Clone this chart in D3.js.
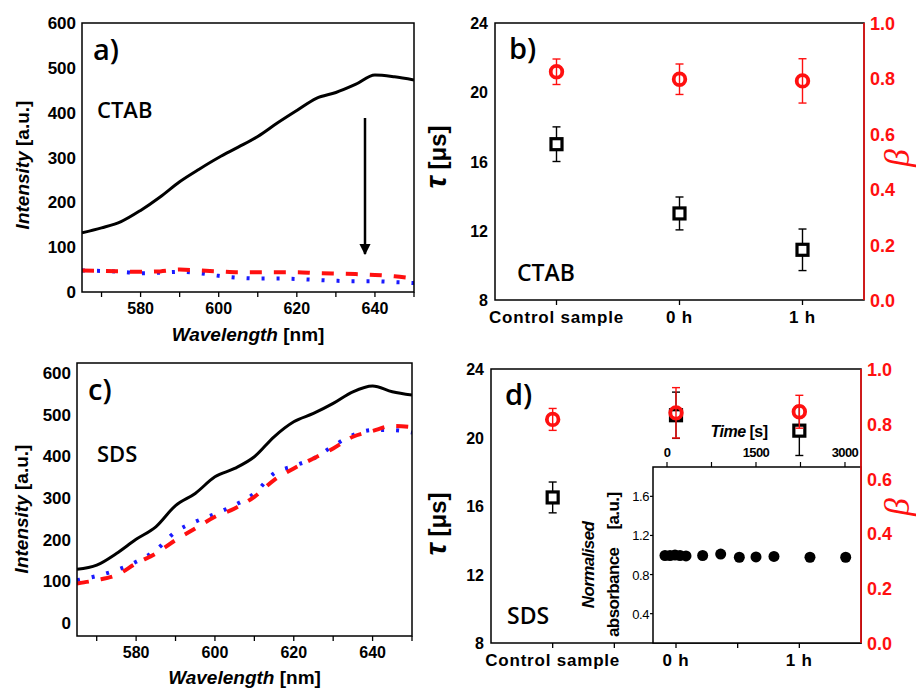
<!DOCTYPE html>
<html>
<head>
<meta charset="utf-8">
<script src="https://cdn.jsdelivr.net/npm/d3@7"></script>
<style>
  body { margin: 0; background: #fff; }
</style>
</head>
<body>
<div id="root"></div>
<script>
// ---- data ----
const wavelength = [565, 570, 575, 580, 585, 590, 595, 600, 605, 610, 615, 620, 625, 630, 635, 640, 645, 650]
// a) CTAB spectra
const ctabControl = [132, 143, 157, 182, 212, 246, 274, 300, 323, 347, 377, 405, 432, 445, 463, 484, 480, 473]
const ctabRed = [48, 47, 46, 45, 46, 50, 48, 46, 44, 44, 44, 44, 42, 41, 40, 38, 35, 30]
const ctabBlue = [48, 47, 45, 42, 43, 45, 42, 36, 32, 30, 30, 29, 27, 25, 24, 24, 22, 20]
// c) SDS spectra
const sdsControl = [129, 139, 167, 201, 231, 282, 311, 351, 371, 399, 447, 483, 503, 527, 555, 569, 555, 547]
const sdsRed = [95, 103, 115, 143, 167, 199, 227, 255, 275, 303, 343, 371, 395, 419, 447, 461, 473, 470]
const sdsBlue = [103, 113, 127, 147, 175, 219, 243, 262, 283, 311, 359, 377, 395, 425, 451, 463, 463, 457]

// b), d) lifetimes and stretching exponents
const samples = ["Control sample", "0 h", "1 h"]
const ctabTau = [17.0, 13.0, 10.9]
const ctabTauErr = [1.0, 0.95, 1.2]
const ctabBeta = [0.824, 0.797, 0.791]
const ctabBetaErr = [0.046, 0.055, 0.08]
const sdsTau = [16.5, 21.3, 20.4]
const sdsTauErr = [0.9, 1.35, 1.45]
const sdsBeta = [0.816, 0.84, 0.844]
const sdsBetaErr = [0.04, 0.092, 0.06]

// d) inset
const insetTime = [-34, 51, 135, 219, 320, 601, 905, 1219, 1500, 1803, 2410, 3012]
const insetAbs = [0.995, 0.995, 1.0, 0.995, 0.99, 0.995, 1.01, 0.977, 0.98, 0.985, 0.977, 0.977]

// ticks
const wavelengthTicks = [580, 600, 620, 640]
const wavelengthMinor = [570, 590, 610, 630, 650]
const intensityTicks = [0, 100, 200, 300, 400, 500, 600]
const tauTicks = [8, 12, 16, 20, 24]
const betaTicks = [0, 0.2, 0.4, 0.6, 0.8, 1.0]
const insetYTicks = [0.4, 0.8, 1.2, 1.6]
const insetTimeTicks = [0, 1500, 3000]
const insetTimeMinor = [750, 2250]

const RED = "#ff1010", BLUE = "#1a1aff"
const W = 916, H = 689
const svg = d3.select("#root").append("svg")
    .attr("width", W).attr("height", H)
    .style("font-family", "'Liberation Sans', Arial, sans-serif")

function spectrum(p) {
    const g = svg.append("g")
    const x = d3.scaleLinear().domain([565, 650]).range([p.left, p.right])
    const y = d3.scaleLinear().domain(p.yDomain).range([p.bottom, p.top])

    // ticks below the frame
    g.selectAll("line.minor").data(wavelengthMinor.concat(wavelengthTicks)).enter().append("line")
        .attr("x1", d => x(d)).attr("x2", d => x(d))
        .attr("y1", p.bottom).attr("y2", p.bottom + 5)
        .attr("stroke", "#000").attr("stroke-width", 1.3)
    g.selectAll("text.xt").data(wavelengthTicks).enter().append("text")
        .attr("x", d => x(d)).attr("y", p.bottom + 22)
        .attr("text-anchor", "middle").attr("font-size", 16).attr("font-weight", "bold")
        .text(d => d)
    g.selectAll("text.yt").data(intensityTicks).enter().append("text")
        .attr("x", p.left - 6).attr("y", d => y(d) + 6)
        .attr("text-anchor", "end").attr("font-size", 17).attr("font-weight", "bold")
        .text(d => d)

    const clipId = "clip" + p.name
    g.append("clipPath").attr("id", clipId).append("rect")
        .attr("x", p.left).attr("y", p.top).attr("width", p.right - p.left).attr("height", p.bottom - p.top)

    const line = d3.line().x((d, i) => x(wavelength[i])).y(d => y(d)).curve(d3.curveMonotoneX)
    const lines = g.append("g").attr("clip-path", `url(#${clipId})`)
    lines.append("path").attr("d", line(p.blue)).attr("fill", "none")
        .attr("stroke", BLUE).attr("stroke-width", 4).attr("stroke-dasharray", "3,12")
    lines.append("path").attr("d", line(p.red)).attr("fill", "none")
        .attr("stroke", RED).attr("stroke-width", 4).attr("stroke-dasharray", "12,12")
    lines.append("path").attr("d", line(p.control)).attr("fill", "none")
        .attr("stroke", "#000").attr("stroke-width", 3)

    g.append("rect").attr("x", p.left).attr("y", p.top)
        .attr("width", p.right - p.left).attr("height", p.bottom - p.top)
        .attr("fill", "none").attr("stroke", "#000").attr("stroke-width", 1.5)

    // axis titles
    const xt = g.append("text").attr("x", (p.left + p.right) / 2).attr("y", p.xTitleY)
        .attr("text-anchor", "middle").attr("font-size", 19).attr("font-weight", "bold")
    xt.append("tspan").attr("font-style", "italic").text("Wavelength")
    xt.append("tspan").text(" [nm]")
    const yt = g.append("text").attr("transform", `translate(${p.yTitleX},${p.yTitleY}) rotate(-90)`)
        .attr("text-anchor", "middle").attr("font-size", 19).attr("font-weight", "bold")
    yt.append("tspan").attr("font-style", "italic").text("Intensity")
    yt.append("tspan").text(" [a.u.]")

    g.append("text").attr("x", p.left + 11).attr("y", p.top + 37)
        .attr("font-family", "'Open Sans', sans-serif").attr("font-weight", 600).attr("font-size", 29)
        .text(p.label)
    g.append("text").attr("x", p.nameX).attr("y", p.nameY)
        .attr("font-family", "'Open Sans', sans-serif").attr("font-weight", 600).attr("font-size", 22)
        .text(p.name)
    return {x, y, g}
}

function lifetime(p) {
    const g = svg.append("g")
    const x = d3.scalePoint().domain(samples).range([p.left, p.right]).padding(0.5)
    const yT = d3.scaleLinear().domain([8, 24]).range([p.bottom, p.top])
    const yB = d3.scaleLinear().domain([0, 1]).range([p.bottom, p.top])

    const tickPos = samples.map(s => x(s))
    if (p.midTicks) tickPos.push(x(samples[0]) + x.step() / 2, x(samples[1]) + x.step() / 2)
    g.selectAll("line.xtick").data(tickPos).enter().append("line")
        .attr("x1", d => d).attr("x2", d => d).attr("y1", p.bottom).attr("y2", p.bottom + 5)
        .attr("stroke", "#000").attr("stroke-width", 1.3)
    g.selectAll("text.xt").data(samples).enter().append("text")
        .attr("x", d => x(d)).attr("y", p.bottom + 23)
        .attr("text-anchor", "middle").attr("font-size", 17).attr("font-weight", "bold")
        .attr("letter-spacing", 0.8)
        .text(d => d)
    g.selectAll("text.yt").data(tauTicks).enter().append("text")
        .attr("x", p.left - 7).attr("y", d => yT(d) + 6)
        .attr("text-anchor", "end").attr("font-size", 16).attr("font-weight", "bold")
        .text(d => d)
    g.selectAll("text.bt").data(betaTicks).enter().append("text")
        .attr("x", p.right + 6).attr("y", d => yB(d) + 7)
        .attr("font-size", 18).attr("font-weight", "bold").attr("fill", RED)
        .text(d => d.toFixed(1))

    g.append("rect").attr("x", p.left).attr("y", p.top)
        .attr("width", p.right - p.left).attr("height", p.bottom - p.top)
        .attr("fill", "#fff").attr("stroke", "#000").attr("stroke-width", 1.5)

    g.append("text").attr("x", p.left + 14).attr("y", p.top + 36)
        .attr("font-family", "'Open Sans', sans-serif").attr("font-weight", 600).attr("font-size", 29)
        .text(p.label)
    g.append("text").attr("x", p.nameX).attr("y", p.nameY)
        .attr("font-family", "'Open Sans', sans-serif").attr("font-weight", 600).attr("font-size", 23)
        .text(p.name)

    if (p.inset) p.inset(g)

    function errorBars(vals, errs, scale, color) {
        const eb = g.append("g").attr("stroke", color).attr("stroke-width", 1.4)
        vals.forEach((v, i) => {
            const cx = x(samples[i])
            eb.append("line").attr("x1", cx).attr("x2", cx).attr("y1", scale(v - errs[i])).attr("y2", scale(v + errs[i]))
            eb.append("line").attr("x1", cx - 4).attr("x2", cx + 4).attr("y1", scale(v - errs[i])).attr("y2", scale(v - errs[i]))
            eb.append("line").attr("x1", cx - 4).attr("x2", cx + 4).attr("y1", scale(v + errs[i])).attr("y2", scale(v + errs[i]))
        })
    }
    errorBars(p.tau, p.tauErr, yT, "#000")
    g.selectAll("rect.sq").data(p.tau).enter().append("rect")
        .attr("x", (d, i) => x(samples[i]) - 5.5).attr("y", d => yT(d) - 5.5)
        .attr("width", 11).attr("height", 11)
        .attr("fill", "#fff").attr("stroke", "#000").attr("stroke-width", 3.2)
    errorBars(p.beta, p.betaErr, yB, RED)
    g.selectAll("circle.bt").data(p.beta).enter().append("circle")
        .attr("cx", (d, i) => x(samples[i])).attr("cy", d => yB(d)).attr("r", 5.8)
        .attr("fill", "none").attr("stroke", RED).attr("stroke-width", 3.8)

    // red right axis
    g.append("line").attr("x1", p.right).attr("x2", p.right).attr("y1", p.top).attr("y2", p.bottom)
        .attr("stroke", RED).attr("stroke-width", 1.5)

    const tt = g.append("text").attr("transform", `translate(446,${p.tauY}) rotate(-90)`)
        .attr("text-anchor", "middle").attr("font-weight", "bold")
    tt.append("tspan").attr("font-size", 30).attr("font-style", "italic").text("τ")
    tt.append("tspan").attr("font-size", 24).text(" [μs]")
    g.append("text").attr("transform", `translate(909,${p.betaY}) rotate(-90)`)
        .attr("text-anchor", "middle").attr("font-family", "'Liberation Serif', serif")
        .attr("font-style", "italic").attr("font-size", 36).attr("fill", RED)
        .text("β")
}

// a)
const a = spectrum({
    name: "CTAB", label: "a)", left: 82, right: 414, top: 23, bottom: 292, yDomain: [0, 600],
    control: ctabControl, red: ctabRed, blue: ctabBlue,
    xTitleY: 341, yTitleX: 29, yTitleY: 165, nameX: 97, nameY: 118
})
// arrow
a.g.append("defs").append("marker").attr("id", "arrowhead")
    .attr("viewBox", "0 0 10 10").attr("refX", 9).attr("refY", 5)
    .attr("markerWidth", 4.5).attr("markerHeight", 8).attr("orient", "auto")
    .append("path").attr("d", "M0,0 L10,5 L0,10 Z").attr("fill", "#000")
a.g.append("line").attr("x1", 365).attr("x2", 365).attr("y1", 118).attr("y2", 254)
    .attr("stroke", "#000").attr("stroke-width", 2.5).attr("marker-end", "url(#arrowhead)")

// c)
spectrum({
    name: "SDS", label: "c)", left: 77, right: 412, top: 363, bottom: 636, yDomain: [-31, 624],
    control: sdsControl, red: sdsRed, blue: sdsBlue,
    xTitleY: 684, yTitleX: 28, yTitleY: 509, nameX: 97, nameY: 462
})

// b)
lifetime({
    name: "CTAB", label: "b)", left: 495, right: 864, top: 23, bottom: 300,
    tau: ctabTau, tauErr: ctabTauErr, beta: ctabBeta, betaErr: ctabBetaErr,
    nameX: 517, nameY: 281, tauY: 157, betaY: 158
})

// d)
lifetime({
    name: "SDS", label: "d)", left: 491, right: 861, top: 369, bottom: 643, midTicks: true,
    tau: sdsTau, tauErr: sdsTauErr, beta: sdsBeta, betaErr: sdsBetaErr,
    nameX: 507, nameY: 624, tauY: 524, betaY: 507,
    inset: g => {
        const L = 653, R = 861, T = 467, B = 643
        const ix = d3.scaleLinear().domain([-236, 3270]).range([L, R])
        const iy = d3.scaleLinear().domain([0.1, 1.9]).range([B, T])
        g.append("rect").attr("x", L).attr("y", T).attr("width", R - L).attr("height", B - T)
            .attr("fill", "#fff").attr("stroke", "#000").attr("stroke-width", 1.5)
        g.selectAll("line.it").data(insetTimeTicks.concat(insetTimeMinor)).enter().append("line")
            .attr("x1", d => ix(d)).attr("x2", d => ix(d)).attr("y1", T).attr("y2", T - 5)
            .attr("stroke", "#000").attr("stroke-width", 1.2)
        g.selectAll("text.it").data(insetTimeTicks).enter().append("text")
            .attr("x", d => ix(d)).attr("y", T - 10).attr("text-anchor", "middle")
            .attr("font-size", 13).attr("letter-spacing", -0.6).attr("font-weight", "bold")
            .text(d => d)
        g.selectAll("line.iy").data(insetYTicks).enter().append("line")
            .attr("x1", L).attr("x2", L - 3).attr("y1", d => iy(d)).attr("y2", d => iy(d))
            .attr("stroke", "#000").attr("stroke-width", 1.2)
        g.selectAll("text.iy").data(insetYTicks).enter().append("text")
            .attr("x", L - 4).attr("y", d => iy(d) + 5).attr("text-anchor", "end")
            .attr("font-size", 13).attr("letter-spacing", -0.4)
            .text(d => d.toFixed(1))
        const tt = g.append("text").attr("x", 739).attr("y", 437).attr("text-anchor", "middle")
            .attr("font-size", 16).attr("font-weight", "bold").attr("letter-spacing", -0.5)
        tt.append("tspan").attr("font-style", "italic").text("Time")
        tt.append("tspan").text(" [s]")
        g.append("text").attr("transform", "translate(594,565) rotate(-90)")
            .attr("text-anchor", "middle").attr("font-size", 17).attr("font-style", "italic")
            .attr("font-weight", "bold").attr("letter-spacing", -0.6)
            .text("Normalised")
        const l2 = g.append("text").attr("transform", "translate(619,637) rotate(-90)")
            .attr("font-size", 17).attr("font-weight", "bold").attr("letter-spacing", -0.6)
        l2.append("tspan").text("absorbance")
        l2.append("tspan").attr("dx", 18).text("[a.u.]")
        g.selectAll("circle.ia").data(insetAbs).enter().append("circle")
            .attr("cx", (d, i) => ix(insetTime[i])).attr("cy", d => iy(d)).attr("r", 5.5)
            .attr("fill", "#000")
    }
})
</script>
</body>
</html>
